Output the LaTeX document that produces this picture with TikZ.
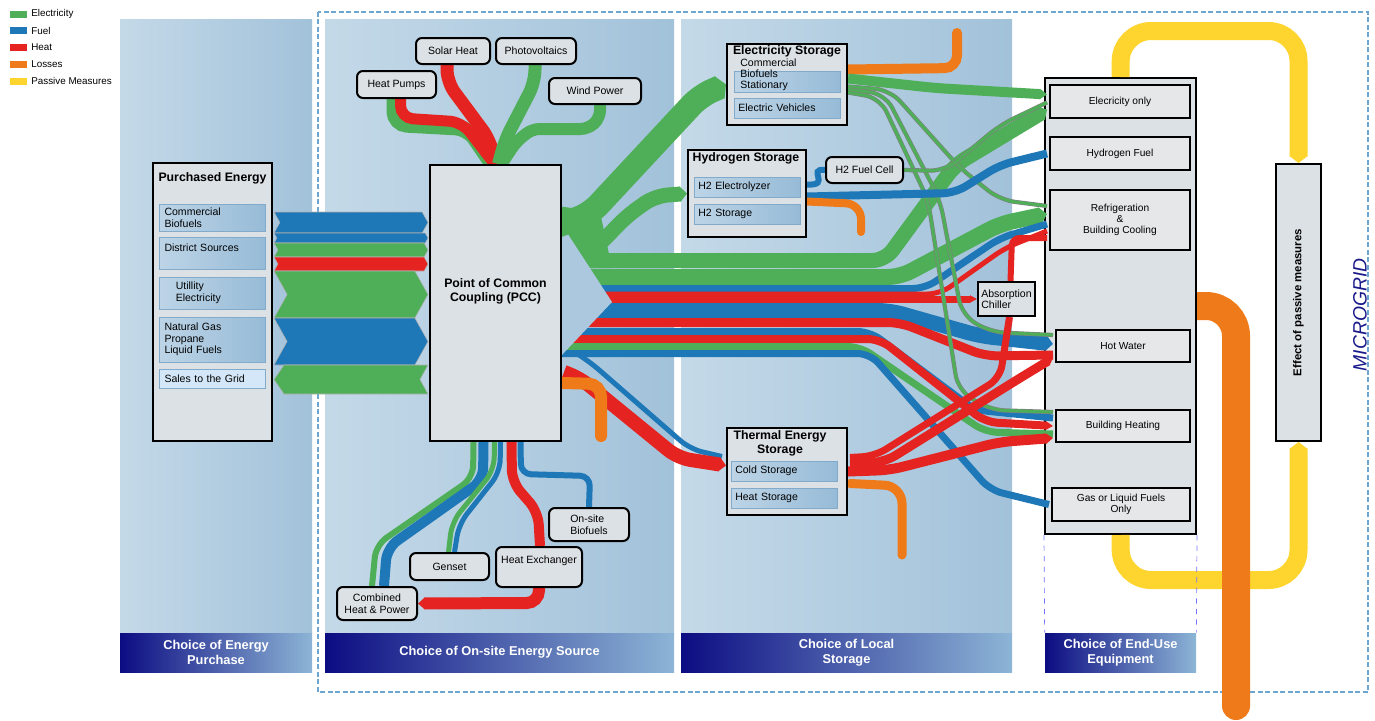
\documentclass[tikz,border=0pt]{standalone}
\usepackage{fontspec}
\setmainfont{Liberation Sans}
\usetikzlibrary{arrows.meta,calc}
\pgfdeclarelayer{back}
\pgfdeclarelayer{flows}
\pgfsetlayers{back,flows,main}
% colours
\definecolor{elec}{HTML}{4FAF58}
\definecolor{fuel}{HTML}{1E77B6}
\definecolor{heat}{HTML}{E52421}
\definecolor{loss}{HTML}{EF7A1A}
\definecolor{passive}{HTML}{FED42E}
\definecolor{panelA}{HTML}{C4D9E8}
\definecolor{panelB}{HTML}{A2C2DA}
\definecolor{boxgray}{HTML}{DCE1E6}
\definecolor{eugray}{HTML}{E6E7E8}
\definecolor{subA}{HTML}{BDD4E6}
\definecolor{subB}{HTML}{97BBD7}
\definecolor{subedge}{HTML}{82AACB}
\definecolor{gridsale}{HTML}{D4E7F8}
\definecolor{navy}{HTML}{0C0C82}
\definecolor{capR}{HTML}{8DB5D6}
\definecolor{mgline}{HTML}{6EA6D2}
\definecolor{mgtext}{HTML}{1A1A8A}
\tikzset{
  sz/.style 2 args={minimum width=#1*0.02cm,minimum height=#2*0.02cm},
  panel/.style={left color=panelA,right color=panelB},
  capbox/.style={left color=navy,right color=capR,text=white,inner sep=0pt,align=center,
    font=\fontsize{7.3}{8.2}\selectfont\bfseries},
  bigbox/.style={draw=black,line width=0.04cm,fill=boxgray,inner sep=0pt},
  srcbox/.style={bigbox,rounded corners=0.12cm,align=center,font=\fontsize{6}{6.6}\selectfont},
  subbox/.style={draw=subedge,line width=0.5pt,left color=subA,right color=subB,inner sep=0pt,
    align=left,font=\fontsize{6}{6.6}\selectfont},
  eubox/.style={draw=black,line width=0.04cm,fill=eugray,inner sep=0pt,align=center,
    font=\fontsize{5.8}{6.4}\selectfont},
  boxtitle/.style={inner sep=0pt,align=center,font=\fontsize{7}{8}\selectfont\bfseries},
  keytext/.style={anchor=west,inner sep=0pt,font=\fontsize{5.6}{6.5}\selectfont},
  flow/.style={line width=#1*0.02cm,rounded corners=0.25cm},
  ptip/.style={-{Triangle[length=0.14cm,width=0pt 1]}},
  elecwire/.style={draw=gray,double=elec,double distance=0.06cm,line width=0.35pt,rounded corners=0.3cm},
  band/.style={draw=gray!60,line width=0.3pt},
}
\begin{document}
\begin{tikzpicture}[x=0.02cm,y=-0.02cm]
\useasboundingbox (0,0) rectangle (1375,720);

% legend
\foreach \col/\txt [count=\i] in {elec/Electricity,fuel/Fuel,heat/Heat,loss/Losses,passive/Passive Measures}{
  \fill[\col] (10,{14+(\i-1)*16.75-3.5}) rectangle (27,{14+(\i-1)*16.75+3.5});
  \node[keytext] (key\i) at (31,{14+(\i-1)*16.75}) {\txt};
}

% columns
\node[capbox,sz={192}{39}] (cap1) at (216,652.5) {Choice of Energy\\Purchase};
\node[capbox,sz={349}{39}] (cap2) at (499.5,652.5) {Choice of On-site Energy Source};
\node[capbox,sz={331}{39}] (cap3) at (846.5,652.5) {Choice of Local\\Storage};
\node[capbox,sz={151}{39}] (cap4) at (1120.5,652.5) {Choice of End-Use\\Equipment};

% purchased energy
\node[bigbox,sz={119}{278}] (pe) at (212.5,302) {};
\node[boxtitle] (peT) at (212.5,178) {Purchased Energy};
\node[subbox,sz={106}{27},text width=1.9cm] (pe1) at (212,217.5) {Commercial\\Biofuels};
\node[subbox,sz={106}{32},text width=1.9cm] (pe2) at (212,253) {District Sources\\~};
\node[subbox,sz={106}{32},text width=1.45cm] (pe3) at (212,293) {Utillity\\Electricity};
\node[subbox,sz={106}{45},text width=1.9cm] (pe4) at (212,339.5) {Natural Gas\\Propane\\Liquid Fuels};
\node[subbox,sz={106}{19},text width=1.9cm,left color=gridsale,right color=gridsale] (pe5) at (212,378.5) {Sales to the Grid};

% point of common coupling
\node[bigbox,sz={131}{276},align=center,text depth=0.5cm,font=\fontsize{7}{8}\selectfont\bfseries] (pcc) at (495.5,303) {Point of Common\\Coupling (PCC)};

% on-site sources
\node[srcbox,sz={79}{27}] (hp) at (396.5,84.5) {Heat Pumps};
\node[srcbox,sz={74}{26}] (sh) at (453,51) {Solar Heat};
\node[srcbox,sz={80}{26}] (pv) at (536,51) {Photovoltaics};
\node[srcbox,sz={92}{26}] (wp) at (595,91) {Wind Power};
\node[srcbox,sz={80}{33}] (chp) at (377,603.5) {Combined\\Heat \& Power};
\node[srcbox,sz={79}{27}] (gen) at (449.5,566.5) {Genset};
\node[srcbox,sz={86}{40},text depth=0.3cm] (hx) at (539,567) {Heat Exchanger};
\node[srcbox,sz={80}{33},align=left] (bio) at (589,524.5) {On-site\\Biofuels};

% local storage
\node[bigbox,sz={120}{81}] (es) at (787,84.5) {};
\node[boxtitle] (esT) at (787,51.5) {Electricity Storage};
\node[subbox,sz={106}{21}] (es1) at (787,81.5) {};
\node[anchor=north west,inner sep=0pt,align=left,font=\fontsize{6}{6.2}\selectfont] (esL) at (740,59) {Commercial\\Biofuels\\Stationary};
\node[subbox,sz={106}{20},text width=1.95cm] (es2) at (787,108) {Electric Vehicles};

\node[bigbox,sz={118}{87}] (hs) at (747,193.5) {};
\node[boxtitle] (hsT) at (746,158) {Hydrogen Storage};
\node[subbox,sz={106}{20},text width=1.95cm] (hs1) at (747,187) {H2 Electrolyzer};
\node[subbox,sz={106}{20},text width=1.95cm] (hs2) at (747,214) {H2 Storage};
\node[srcbox,sz={77}{26}] (fc) at (864.5,170) {H2 Fuel Cell};

\node[bigbox,sz={120}{87}] (ts) at (787,471.5) {};
\node[boxtitle] (tsT) at (780,443.5) {Thermal Energy\\Storage};
\node[subbox,sz={106}{20},text width=1.95cm] (ts1) at (784,471) {Cold Storage};
\node[subbox,sz={106}{20},text width=1.95cm] (ts2) at (784,498) {Heat Storage};

\node[bigbox,sz={57}{34},align=left,font=\fontsize{6}{6.4}\selectfont] (ac) at (1006.5,299) {Absorption\\Chiller};

% end-use equipment
\begin{pgfonlayer}{back}
\shade[panel] (120,19) rectangle (312,633);
\shade[panel] (325,19) rectangle (674,633);
\shade[panel] (681,19) rectangle (1012,633);
\draw[mgline,line width=0.03cm,dash pattern=on 0.1cm off 0.05cm] (318,12) rectangle (1368,692);
\node[bigbox,sz={151}{456}] (eu) at (1120.5,306) {};
\end{pgfonlayer}
\node[eubox,sz={140}{33}] (eu1) at (1120,101.5) {Elecricity only};
\node[eubox,sz={140}{33}] (eu2) at (1120,153.5) {Hydrogen Fuel};
\node[eubox,sz={140}{60}] (eu3) at (1120,220) {Refrigeration\\\&\\Building Cooling};
\node[eubox,sz={134}{32}] (eu4) at (1123,346) {Hot Water};
\node[eubox,sz={134}{32}] (eu5) at (1123,426) {Building Heating};
\node[eubox,sz={138}{33}] (eu6) at (1121,504.5) {Gas or Liquid Fuels\\Only};
\draw[blue!55,dashed,line width=0.4pt] (eu.south west) -- (cap4.north west) (eu.south east) -- (cap4.north east);

\node[bigbox,rotate=90,sz={277}{45},font=\fontsize{6.5}{7.5}\selectfont\bfseries] (eff) at (1298.5,302.5) {Effect of passive measures};
\node[rotate=90,text=mgtext,font=\fontsize{11}{13}\selectfont\itshape] (mg) at (1360,315) {MICROGRID};

\begin{pgfonlayer}{flows}
% purchased energy -> PCC
\foreach \ya/\yb/\col in {212/233/fuel,233/243/fuel,243/257/elec,257/271/heat,271/318/elec,318/365/fuel}{
  \pgfmathsetmacro\d{0.28*(\yb-\ya)}
  \pgfmathsetmacro\ym{(\ya+\yb)/2}
  \filldraw[\col,band] (274,\ya) -- ({428-\d},\ya) -- (428,\ym) -- ({428-\d},\yb) -- (274,\yb) -- ({274+\d},\ym) -- cycle;
}
\filldraw[elec,band] (428,365) -- (284,365) -- (274,379.5) -- (284,394) -- (428,394) -- (420,379.5) -- cycle;

% sources above PCC
\draw[elec,flow=16] ($(hp.south)+(-2,0)$) -- (394.5,124) -- (468,128) -- ($(pcc.north)+(-3,0)$);
\draw[heat,flow=11] ($(hp.south)+(4,0)$) -- (400.5,118) -- (462,122) -- ($(pcc.north)+(-1,0)$);
\draw[heat,flow=13] ($(sh.south)+(-6,0)$) -- (447,82) -- (490,140) -- (pcc.north);
\draw[elec,flow=13] ($(pv.south)+(-1,0)$) -- (535,82) -- (505,140) -- ($(pcc.north)+(3,0)$);
\draw[elec,flow=12,rounded corners=0.15cm] ($(wp.south)+(5,0)$) -- (600,118) -- (588,129) -- (532,129) -- (516,142) -- ($(pcc.north)+(6,0)$);

% sources below PCC
\draw[elec,flow=6] ($(pcc.south)+(-22,0)$) -- (473,478) -- (376,545) -- ($(chp.north)+(-5,0)$);
\draw[fuel,flow=10] ($(pcc.south)+(-12,0)$) -- (483,480) -- (387,548) -- ($(chp.north)+(7,0)$);
\draw[elec,flow=5] ($(pcc.south)+(-1,0)$) -- (494,470) -- (452,522) -- ($(gen.north)+(-1,0)$);
\draw[fuel,flow=5] ($(pcc.south)+(5,0)$) -- (500,472) -- (459,524) -- ($(gen.north)+(5,0)$);
\draw[heat,flow=10] ($(pcc.south)+(16,0)$) -- (512,482) -- (538,512) -- ($(hx.north)+(1,0)$);
\draw[fuel,flow=6,rounded corners=0.2cm] ($(pcc.south)+(25,0)$) -- (521,474) -- (590,476) -- (bio.north);
\draw[heat,flow=12,ptip] (hx.south) -- (539,603) -- (chp.east);

% PCC -> end use (the fan)
\fill[elec] (550,205) -- (600,212) -- (612,268) -- (550,268) -- cycle;
\draw[elec,flow=15,ptip] ($(pcc.east)+(-11,-42.5)$) -- (885,260.5) -- (955,165) -- ($(eu1.west)+(-2,8)$);
\draw[elec,flow=16,ptip] ($(pcc.east)+(-11,-26)$) -- (900,277) -- (1000,224) -- ($(eu3.west)+(-2,-6)$);
\draw[fuel,flow=7] ($(pcc.east)+(-11,-14.5)$) -- (925,288.5) -- (1000,238) -- ($(eu3.west)+(-2,4)$);
\draw[heat,flow=5] ($(pcc.east)+(-11,-9)$) -- (940,294) -- (1005,248) -- ($(eu3.west)+(-2,11)$);
\draw[heat,flow=7,ptip] ($(pcc.east)+(-11,-4)$) -- (940,299) -- (ac.west);
\draw[fuel,flow=15,ptip] ($(pcc.east)+(-11,7.5)$) -- (890,310.5) -- (980,336) -- ($(eu4.west)+(-2,-2)$);
\draw[heat,flow=9] ($(pcc.east)+(-11,19.5)$) -- (900,322.5) -- (985,356) -- ($(eu4.west)+(-2,9)$);
\draw[fuel,flow=7] ($(pcc.east)+(-11,28.5)$) -- (870,331.5) -- (975,410) -- ($(eu5.west)+(-2,-8)$);
\draw[heat,flow=8,ptip] ($(pcc.east)+(-11,36)$) -- (880,339) -- (985,422) -- ($(eu5.west)+(-2,0)$);
\draw[elec,flow=7] ($(pcc.east)+(-11,43.5)$) -- (860,346.5) -- (985,432) -- ($(eu5.west)+(-2,8)$);
\draw[fuel,flow=7] ($(pcc.east)+(-11,50.5)$) -- (870,353.5) -- (990,490) -- ($(eu6.west)+(-2,0)$);
\fill[panelB!75!panelA] (560,222) -- (612,302) -- (560,357) -- cycle;

% PCC -> storage
\draw[elec,flow=24,ptip] ($(pcc.east)+(-11,-75)$) -- (590,214) -- (700,96) -- (es.west);
\draw[elec,flow=15,ptip] ($(pcc.east)+(24,-45)$) -- (628,215) -- (655,196) -- (hs.west);
\draw[fuel,flow=5] ($(pcc.east)+(14,50)$) -- (590,362) -- (690,449) -- ($(ts.west)+(-4,-15)$);
\draw[heat,flow=14,ptip] ($(pcc.east)+(2,69)$) -- (580,378) -- (678,458) -- ($(ts.west)+(0,-6)$);
\draw[loss,flow=12,line cap=round] ($(pcc.east)+(0,80)$) -- (601,384) -- (601,436);

% electricity storage outputs
\draw[loss,flow=10,line cap=round] ($(es.east)+(0,-15)$) -- (957,68) -- (957,33);
\draw[elec,flow=10,ptip] ($(es.east)+(0,-6)$) -- (935,88) -- ($(eu1.west)+(-2,-7)$);
\draw[elecwire] ($(es.east)+(0,2)$) -- (890,90) -- (960,168) -- (1000,200) -- ($(eu3.west)+(-2,-14)$);
\draw[elecwire] ($(es.east)+(0,5)$) -- (885,94) -- (940,200) -- (962,315) -- (990,332) -- ($(eu4.west)+(-2,-11)$);
\draw[elecwire] ($(es.east)+(0,8)$) -- (880,98) -- (928,200) -- (958,390) -- (990,410) -- ($(eu5.west)+(-2,-14)$);

% hydrogen storage outputs
\draw[fuel,flow=6] ($(hs.east)+(0,-9)$) .. controls (832,186) and (806,168) .. (fc.west);
\draw[elecwire] (fc.east) -- (945,171) -- (1000,125) -- ($(eu1.west)+(-2,1)$);
\draw[fuel,flow=8] ($(hs.east)+(0,3)$) -- (955,193) -- (1000,165) -- ($(eu2.west)+(-2,0)$);
\draw[loss,flow=8,line cap=round,rounded corners=0.3cm] ($(hs.east)+(0,8)$) -- (861,204) -- (861,232);

% thermal storage outputs
\draw[heat,flow=7] ($(ts.east)+(2,-14)$) -- (875,456) -- (1000,378) -- ($(ac.south)+(3,0)$);
\draw[heat,flow=9,ptip] ($(ts.east)+(2,-8)$) -- (885,462) -- (1020,378) -- ($(eu4.west)+(-2,12)$);
\draw[heat,flow=10,ptip] (ts.east) -- (890,470) -- (1000,442) -- ($(eu5.west)+(-2,12)$);
\draw[loss,flow=9,line cap=round,rounded corners=0.35cm] ($(ts.east)+(2,12)$) -- (902,486) -- (902,555);
\draw[heat,flow=6,rounded corners=0.15cm] ($(ac.north)+(4,0)$) -- (1012,238) -- ($(eu3.west)+(-2,18)$);

% passive measures and losses
\draw[passive,flow=18,rounded corners=0.6cm,ptip] (eu.north) -- (1121,31) -- (1298.5,31) -- (eff.east);
\draw[passive,flow=18,rounded corners=0.6cm,ptip] (eu.south) -- (1121,580) -- (1298.5,580) -- (eff.west);
\draw[loss,flow=28,rounded corners=0.6cm] (eu.east) -- (1236,306) -- (1236,706);
\fill[loss] (1236,706) circle (0.28cm);
\end{pgfonlayer}
\end{tikzpicture}
\end{document}
